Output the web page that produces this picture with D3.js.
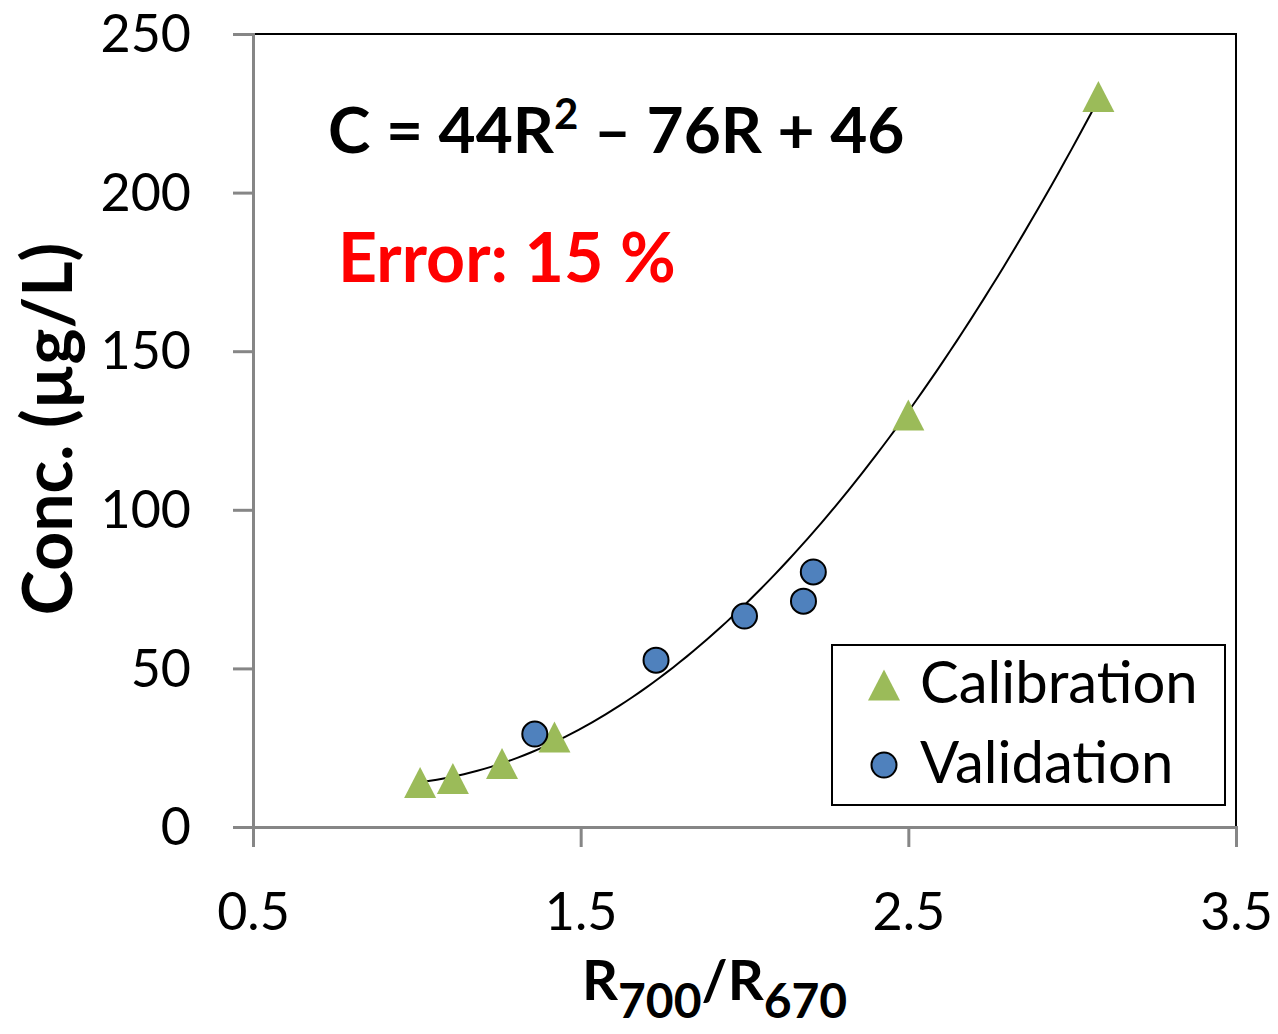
<!DOCTYPE html>
<html>
<head>
<meta charset="utf-8">
<script src="https://cdn.jsdelivr.net/npm/d3@7"></script>
<style>
  body { margin: 0; background: #fff; }
  text { font-family: Lato, "Open Sans", sans-serif; }
</style>
</head>
<body>
<script>
// calibration points (triangles)
var calR = [1.01, 1.11, 1.26, 1.42, 2.50, 3.08];
var calC = [14.0, 15.3, 20.0, 28.4, 129.9, 230.3];
// validation points (circles)
var valR = [1.36, 1.73, 2.00, 2.18, 2.21];
var valC = [29.3, 52.6, 66.5, 71.2, 80.4];
// fitted equation coefficients, C = a R^2 + b R + c
var coef = [44, -76, 46];
var fitRange = [1.02, 3.08];
var xTicks = [0.5, 1.5, 2.5, 3.5];
var yTicks = [0, 50, 100, 150, 200, 250];

var width = 1278, height = 1034;
var margin = {left: 253, right: 42, top: 34, bottom: 207};

var svg = d3.select("body").append("svg")
    .attr("width", width)
    .attr("height", height);

var x = d3.scaleLinear().domain([0.5, 3.5]).range([margin.left, width - margin.right]);
var y = d3.scaleLinear().domain([0, 250]).range([height - margin.bottom, margin.top]);

// plot area border (top/right black)
svg.append("rect")
    .attr("x", x(0.5)).attr("y", y(250))
    .attr("width", x(3.5) - x(0.5)).attr("height", y(0) - y(250))
    .attr("fill", "none").attr("stroke", "#000").attr("stroke-width", 2);

// axes
var xAxis = svg.append("g")
    .attr("transform", "translate(0," + y(0) + ")")
    .call(d3.axisBottom(x).tickValues(xTicks).tickSize(20).tickPadding(46).tickFormat(d3.format(".1f")));
var yAxis = svg.append("g")
    .attr("transform", "translate(" + x(0.5) + ",0)")
    .call(d3.axisLeft(y).tickValues(yTicks).tickSize(20).tickPadding(42));

[xAxis, yAxis].forEach(function(a) {
  a.select(".domain").attr("stroke", "#868686").attr("stroke-width", 3);
  a.selectAll(".tick line").attr("stroke", "#868686").attr("stroke-width", 3);
  a.selectAll(".tick text").attr("fill", "#000").style("font-size", "52px")
    .style("font-family", "Lato, sans-serif");
});
yAxis.selectAll(".tick text").attr("dy", "0.34em");

// trend line
var fitPts = d3.range(0, 101).map(function(i) {
  var r = fitRange[0] + (fitRange[1] - fitRange[0]) * i / 100;
  return [r, coef[0] * r * r + coef[1] * r + coef[2]];
});
svg.append("path")
    .datum(fitPts)
    .attr("d", d3.line().x(function(d) { return x(d[0]); }).y(function(d) { return y(d[1]); }))
    .attr("fill", "none").attr("stroke", "#000").attr("stroke-width", 2);

// triangle marker, 32 wide x 31 high, centred on its box
var triType = {
  draw: function(ctx, size) {
    var w = 16, h = 15.5;
    ctx.moveTo(0, -h);
    ctx.lineTo(w, h);
    ctx.lineTo(-w, h);
    ctx.closePath();
  }
};
var tri = d3.symbol().type(triType);

// calibration
svg.selectAll(".cal")
    .data(calR.map(function(r, i) { return [r, calC[i]]; }))
    .enter().append("path")
    .attr("class", "cal")
    .attr("d", tri)
    .attr("transform", function(d) { return "translate(" + x(d[0]) + "," + y(d[1]) + ")"; })
    .attr("fill", "#9BBB59");

// validation
svg.selectAll(".val")
    .data(valR.map(function(r, i) { return [r, valC[i]]; }))
    .enter().append("circle")
    .attr("class", "val")
    .attr("cx", function(d) { return x(d[0]); })
    .attr("cy", function(d) { return y(d[1]); })
    .attr("r", 12.5)
    .attr("fill", "#4F81BD").attr("stroke", "#000").attr("stroke-width", 2);

// equation
var eq = svg.append("text")
    .attr("x", 328).attr("y", 153)
    .style("font-size", "64px").style("font-weight", "bold").attr("fill", "#000");
eq.append("tspan").text("C = 44R");
eq.append("tspan").text("2").attr("dy", -24).style("font-size", "42px");
eq.append("tspan").text(" \u2013 76R + 46").attr("dy", 24);

svg.append("text")
    .attr("x", 338).attr("y", 282)
    .style("font-size", "68px").style("font-weight", "bold").attr("fill", "#FF0000")
    .text("Error: 15 %");

// legend
var leg = svg.append("g");
leg.append("rect")
    .attr("x", 832).attr("y", 645).attr("width", 393).attr("height", 160)
    .attr("fill", "#fff").attr("stroke", "#000").attr("stroke-width", 2);
leg.append("path").attr("d", tri)
    .attr("transform", "translate(884,685)").attr("fill", "#9BBB59");
leg.append("circle").attr("cx", 884).attr("cy", 765).attr("r", 12.5)
    .attr("fill", "#4F81BD").attr("stroke", "#000").attr("stroke-width", 2);
leg.append("text").attr("x", 920).attr("y", 703).style("font-size", "58px").text("Calibration");
leg.append("text").attr("x", 920).attr("y", 783).style("font-size", "58px").text("Validation");

// axis titles
var xt = svg.append("text")
    .attr("x", 582).attr("y", 1000)
    .style("font-size", "56px").style("font-weight", "bold");
xt.append("tspan").text("R");
xt.append("tspan").text("700").attr("dy", 18).style("font-size", "48px");
xt.append("tspan").text("/R").attr("dy", -18);
xt.append("tspan").text("670").attr("dy", 18).style("font-size", "48px");

svg.append("text")
    .attr("transform", "translate(72,429) rotate(-90)")
    .attr("text-anchor", "middle")
    .style("font-size", "68px").style("font-weight", "bold")
    .text("Conc. (\u00b5g/L)");
</script>
</body>
</html>
